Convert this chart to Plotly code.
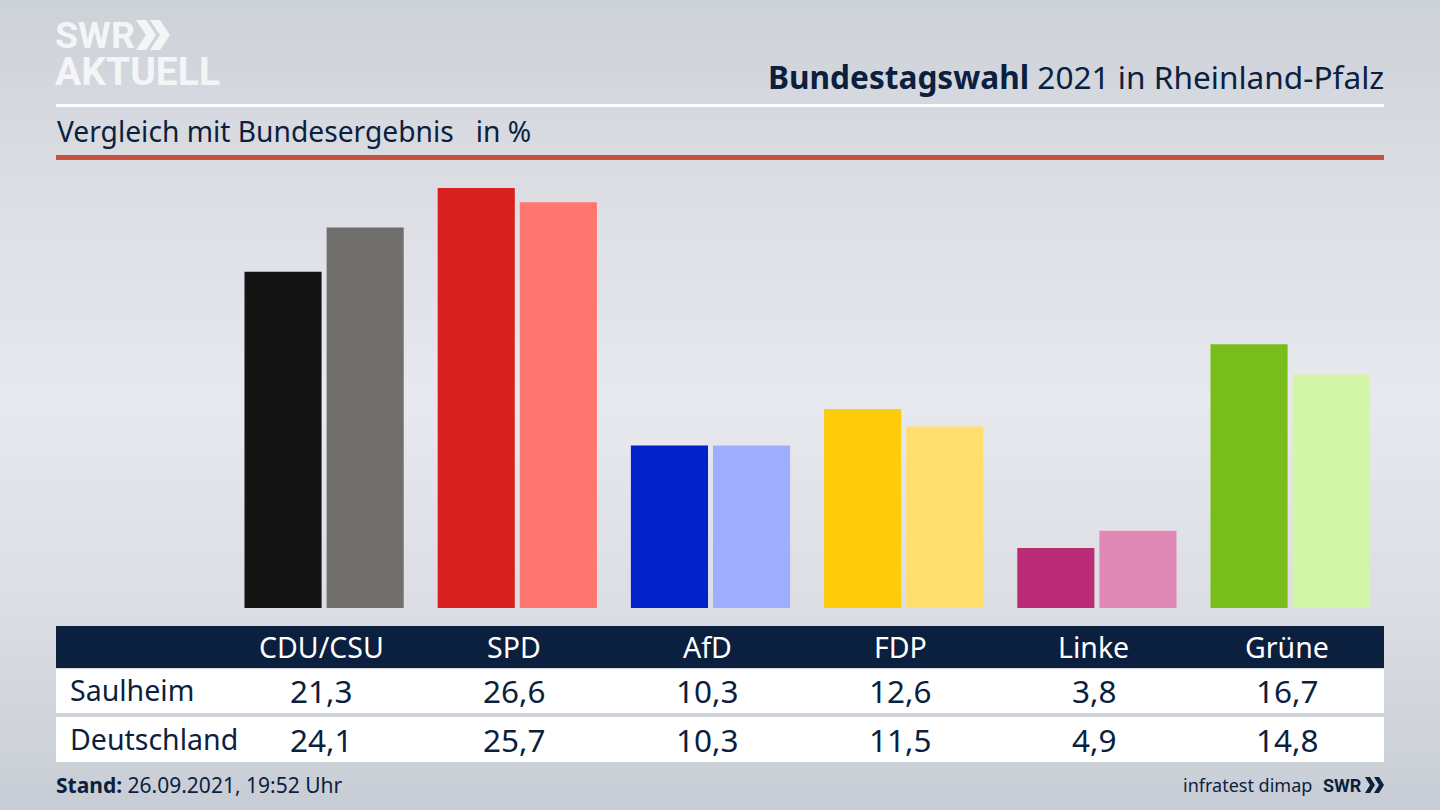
import plotly.graph_objects as go

# --- DATA ---
PARTIES = ["CDU/CSU", "SPD", "AfD", "FDP", "Linke", "Grüne"]
SAULHEIM = [21.3, 26.6, 10.3, 12.6, 3.8, 16.7]
DEUTSCHLAND = [24.1, 25.7, 10.3, 11.5, 4.9, 14.8]
ROW_NAMES = ["Saulheim", "Deutschland"]

# --- STYLE ---
COLORS_LOCAL = ["#141414", "#d8201f", "#0022c8", "#ffcc0a", "#bb2c76", "#78bd1c"]
COLORS_FED = ["#706f6d", "#ff7570", "#9fadff", "#ffdf70", "#e088b6", "#d3f5a8"]
NAVY = "#0b1f3f"
FONT = "Noto Sans"
LOGO_FONT = "Roboto"
W, H = 1440, 810
BG_STOPS = [(0, (205, 209, 216)), (160, (218, 220, 226)), (400, (232, 233, 238)),
            (600, (220, 222, 227)), (810, (200, 204, 212))]


def px(x):
    return x / W


def py(y):
    return 1 - y / H


def bg_color(y):
    for (y0, c0), (y1, c1) in zip(BG_STOPS, BG_STOPS[1:]):
        if y <= y1:
            t = (y - y0) / (y1 - y0)
            return "rgb(%d,%d,%d)" % tuple(round(a + (b - a) * t) for a, b in zip(c0, c1))
    return "rgb(200,204,212)"


def rect(x0, y0, x1, y1, color, layer="below"):
    return dict(type="rect", xref="paper", yref="paper", x0=px(x0), x1=px(x1), y0=py(y0), y1=py(y1),
                fillcolor=color, line_width=0, layer=layer)


def chevron(x, y, w, h, t, color):
    # one ">" of the SWR logo, x/y is the top left corner
    pts = [(x, y), (x + t, y), (x + w, y + h / 2), (x + t, y + h), (x, y + h), (x + w - t, y + h / 2)]
    d = "M " + " L ".join(f"{px(a):.5f},{py(b):.5f}" for a, b in pts) + " Z"
    return dict(type="path", xref="paper", yref="paper", path=d, fillcolor=color, line_width=0, layer="above")


def label(x, y, text, size, color=NAVY, anchor="left", xref="paper", family=FONT, xshift=0):
    return dict(x=x, y=py(y), xref=xref, yref="paper", text=text, showarrow=False, xanchor=anchor,
                yanchor="middle", align=anchor, font=dict(family=family, size=size, color=color),
                borderpad=0, borderwidth=0, xshift=xshift)


fig = go.Figure()
fig.add_trace(go.Bar(x=PARTIES, y=SAULHEIM, name="Saulheim", marker=dict(color=COLORS_LOCAL, line_width=0)))
fig.add_trace(go.Bar(x=PARTIES, y=DEUTSCHLAND, name="Deutschland", marker=dict(color=COLORS_FED, line_width=0)))

shapes = [rect(0, y, W, y + 11, bg_color(y + 5)) for y in range(0, H, 10)]
shapes += [
    rect(56, 104, 1384, 107, "#ffffff"),
    rect(56, 155, 1384, 160, "#c8503e"),
    rect(56, 626, 1384, 668, NAVY),
    rect(56, 669, 1384, 713, "#ffffff"),
    rect(56, 717, 1384, 762, "#ffffff"),
]
# logo chevrons
shapes += [chevron(136, 20, 20, 30, 10, "#f4f5f6"), chevron(150, 20, 20, 30, 10, "#f4f5f6")]
shapes += [chevron(1365, 777, 10, 16, 5, NAVY), chevron(1374, 777, 10, 16, 5, NAVY)]

annotations = [
    label(px(55), 35, "<b>SWR</b>", 37.5, "#f4f5f6", family=LOGO_FONT),
    label(px(55), 72, "<b>AKTUELL</b>", 39, "#f4f5f6", family=LOGO_FONT),
    label(px(1384), 76, "<b>Bundestagswahl</b> 2021 in Rheinland-Pfalz", 31.6, anchor="right"),
    label(px(57), 131, "Vergleich mit Bundesergebnis&nbsp;&nbsp;&nbsp;in %", 28.2),
    label(px(70), 690, ROW_NAMES[0], 28.5),
    label(px(70), 739, ROW_NAMES[1], 28.5),
    label(px(56), 785, "<b>Stand:</b> 26.09.2021, 19:52 Uhr", 21),
    label(px(1312), 785, "infratest dimap", 18, anchor="right"),
    label(px(1323), 785, "<b>SWR</b>", 18, family=LOGO_FONT),
]
for party, local, fed in zip(PARTIES, SAULHEIM, DEUTSCHLAND):
    annotations.append(label(party, 647, party, 28.5, "#ffffff", "center", "x", xshift=-3))
    annotations.append(label(party, 690, f"{local:.1f}".replace(".", ","), 31.5, NAVY, "center", "x", xshift=-3))
    annotations.append(label(party, 739, f"{fed:.1f}".replace(".", ","), 31.5, NAVY, "center", "x", xshift=-3))

fig.update_layout(
    width=W, height=H,
    margin=dict(l=0, r=0, t=0, b=0),
    paper_bgcolor="#e0e2e7", plot_bgcolor="rgba(0,0,0,0)",
    barmode="group", bargap=0.15, bargroupgap=0.061,
    showlegend=False,
    xaxis=dict(domain=[227.5 / W, 1386.7 / W], range=[-0.5, 5.5], type="category", visible=False),
    yaxis=dict(domain=[1 - 608 / H, 1 - 165 / H], range=[0, 28.06], visible=False),
    shapes=shapes,
    annotations=annotations,
)

fig.write_html("out.html", config=dict(displayModeBar=False), post_script="document.body.style.margin='0';")
